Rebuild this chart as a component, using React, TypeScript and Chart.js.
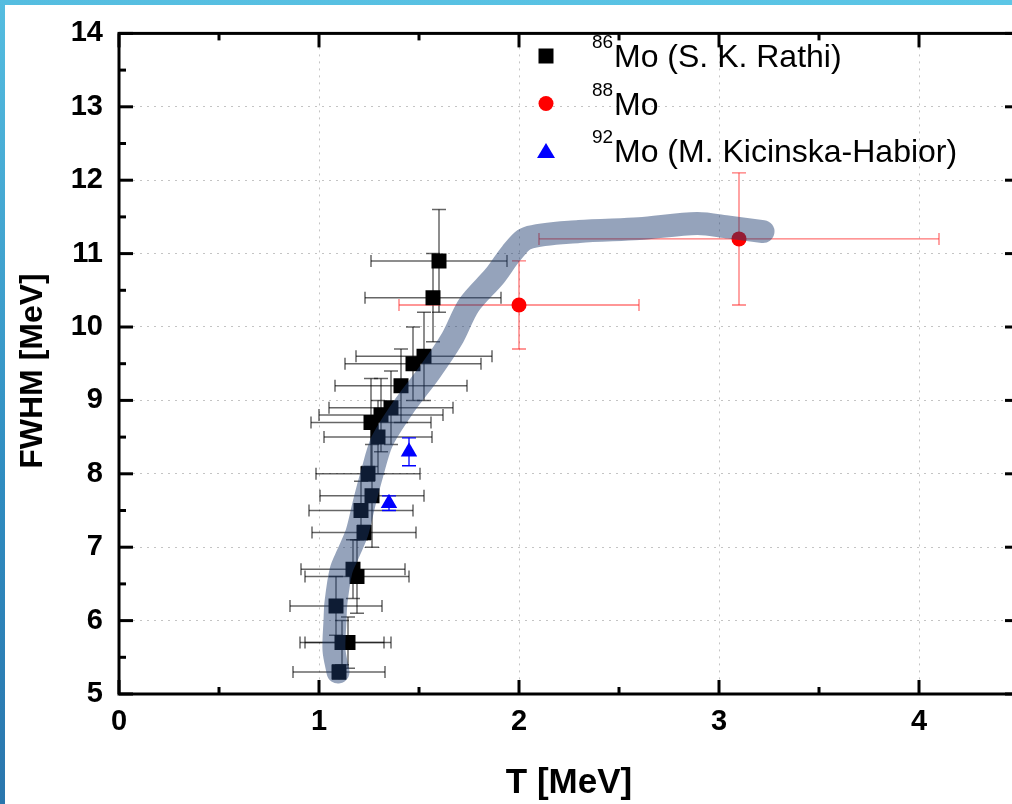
import React, { useEffect, useRef } from 'react';
import { Chart, registerables } from 'chart.js';

Chart.register(...registerables);

const FONT = '"Liberation Sans", Arial, Helvetica, sans-serif';

// 86Mo (S. K. Rathi)
const rathiT = [1.10, 1.115, 1.145, 1.085, 1.17, 1.19, 1.225, 1.21, 1.265, 1.245, 1.295, 1.26, 1.31, 1.36, 1.41, 1.47, 1.525, 1.57, 1.60];
const rathiF = [5.3, 5.7, 5.7, 6.2, 6.7, 6.6, 7.2, 7.5, 7.7, 8.0, 8.5, 8.7, 8.8, 8.9, 9.2, 9.5, 9.6, 10.4, 10.9];
const rathiTErr = [0.23, 0.21, 0.215, 0.23, 0.26, 0.26, 0.26, 0.26, 0.26, 0.26, 0.27, 0.30, 0.31, 0.31, 0.33, 0.34, 0.34, 0.34, 0.34];
const rathiFErr = [0.1, 0.3, 0.35, 0.4, 0.4, 0.5, 0.1, 0.4, 0.7, 0.1, 0.5, 0.6, 0.5, 0.5, 0.5, 0.5, 0.6, 0.6, 0.7];

// 88Mo
const mo88T = [2.0, 3.1];
const mo88F = [10.3, 11.2];
const mo88TErr = [0.6, 1.0];
const mo88FErr = [0.6, 0.9];

// 92Mo (M. Kicinska-Habior)
const mo92T = [1.45, 1.35];
const mo92F = [8.3, 7.6];
const mo92TErr = [0, 0];
const mo92FErr = [0.19, 0.1];

// shaded trend band
const bandT = [1.095, 1.075, 1.08, 1.085, 1.11, 1.145, 1.19, 1.225, 1.265, 1.315, 1.42, 1.555, 1.665, 1.75, 1.88, 1.96, 2.04, 2.3, 2.6, 2.89, 3.05, 3.22];
const bandF = [5.3, 5.6, 6.0, 6.25, 6.68, 6.91, 7.2, 7.59, 8.0, 8.44, 8.9, 9.39, 9.84, 10.3, 10.7, 11.0, 11.21, 11.3, 11.34, 11.41, 11.36, 11.3];

const xMajorTicks = [0, 1, 2, 3, 4];
const xMinorTicks = [0.5, 1.5, 2.5, 3.5, 4.5];
const yMajorTicks = [5, 6, 7, 8, 9, 10, 11, 12, 13, 14];
const yMinorTicks = [5.5, 6.5, 7.5, 8.5, 9.5, 10.5, 11.5, 12.5, 13.5];

const xTitle = 'T [MeV]';
const yTitle = 'FWHM [MeV]';

const legendIso = ['86', '88', '92'];
const legendText = ['Mo (S. K. Rathi)', 'Mo', 'Mo (M. Kicinska-Habior)'];
const legendStyle = ['rect', 'circle', 'triangle'];
const legendColor = ['#000000', '#ff0000', '#0000ff'];

const toPts = (xs: number[], ys: number[]) => xs.map((v, i) => ({ x: v, y: ys[i] }));

function line(ctx: CanvasRenderingContext2D, x1: number, y1: number, x2: number, y2: number) {
  ctx.beginPath();
  ctx.moveTo(x1, y1);
  ctx.lineTo(x2, y2);
  ctx.stroke();
}

const errorBarPlugin = {
  id: 'errorBars',
  beforeDatasetsDraw(chart: any) {
    const { ctx, chartArea, scales } = chart;
    const xs = scales.x, ys = scales.y;
    ctx.save();
    ctx.beginPath();
    ctx.rect(chartArea.left, chartArea.top, chartArea.right - chartArea.left, chartArea.bottom - chartArea.top);
    ctx.clip();
    chart.data.datasets.forEach((ds: any) => {
      if (!ds.errT) return;
      ctx.strokeStyle = ds.errColor;
      ctx.lineWidth = ds.errWidth;
      ds.data.forEach((p: any, i: number) => {
        const px = xs.getPixelForValue(p.x);
        const py = ys.getPixelForValue(p.y);
        const dx = ds.errT[i];
        const dy = ds.errF[i];
        if (dx > 0) {
          const l = xs.getPixelForValue(p.x - dx);
          const r = xs.getPixelForValue(p.x + dx);
          line(ctx, l, py, r, py);
          line(ctx, l, py - 6, l, py + 6);
          line(ctx, r, py - 6, r, py + 6);
        }
        if (dy > 0) {
          const t = ys.getPixelForValue(p.y + dy);
          const b = ys.getPixelForValue(p.y - dy);
          line(ctx, px, t, px, b);
          line(ctx, px - 7, t, px + 7, t);
          line(ctx, px - 7, b, px + 7, b);
        }
      });
    });
    ctx.restore();
  },
};

const framePlugin = {
  id: 'frame',
  afterDraw(chart: any) {
    const { ctx, chartArea, scales } = chart;
    const xs = scales.x, ys = scales.y;
    const { left, right, top, bottom } = chartArea;
    ctx.save();
    ctx.strokeStyle = '#000';
    ctx.lineWidth = 3;
    ctx.lineCap = 'butt';
    // inward ticks
    const drawX = (v: number, len: number) => {
      const px = xs.getPixelForValue(v);
      line(ctx, px, bottom, px, bottom - len);
      line(ctx, px, top, px, top + len);
    };
    const drawY = (v: number, len: number) => {
      const py = ys.getPixelForValue(v);
      line(ctx, left, py, left + len, py);
      line(ctx, right, py, right - len, py);
    };
    xMajorTicks.forEach((v) => drawX(v, 14));
    xMinorTicks.forEach((v) => drawX(v, 7));
    yMajorTicks.forEach((v) => drawY(v, 14));
    yMinorTicks.forEach((v) => drawY(v, 7));
    // box
    ctx.lineWidth = 3;
    ctx.strokeRect(left, top, right - left, bottom - top);

    // axis titles
    ctx.fillStyle = '#000';
    ctx.font = `bold 35px ${FONT}`;
    ctx.textAlign = 'center';
    ctx.textBaseline = 'alphabetic';
    ctx.fillText(xTitle, (xs.getPixelForValue(0) + xs.getPixelForValue(4.5)) / 2, 793);
    ctx.save();
    ctx.translate(42, 371);
    ctx.rotate(-Math.PI / 2);
    ctx.font = `bold 32px ${FONT}`;
    ctx.fillText(yTitle, 0, 0);
    ctx.restore();

    // legend
    const mx = 546;
    legendIso.forEach((iso, i) => {
      const base = 67 + i * 47.5;
      const cy = base - 11;
      ctx.fillStyle = legendColor[i];
      ctx.beginPath();
      if (legendStyle[i] === 'rect') {
        ctx.rect(mx - 7.5, cy - 7.5, 15, 15);
      } else if (legendStyle[i] === 'circle') {
        ctx.arc(mx, cy, 7.5, 0, Math.PI * 2);
      } else {
        ctx.moveTo(mx, cy - 8);
        ctx.lineTo(mx + 9, cy + 7);
        ctx.lineTo(mx - 9, cy + 7);
        ctx.closePath();
      }
      ctx.fill();
      ctx.fillStyle = '#000';
      ctx.textAlign = 'left';
      ctx.textBaseline = 'alphabetic';
      ctx.font = `19px ${FONT}`;
      ctx.fillText(iso, 592, base - 19);
      ctx.font = `32px ${FONT}`;
      ctx.fillText(legendText[i], 614, base);
    });
    ctx.restore();
  },
};

export default function App() {
  const ref = useRef<HTMLCanvasElement>(null);

  useEffect(() => {
    if (!ref.current) return;
    const gridCommon = { color: '#c4c4c4', lineWidth: 1, drawTicks: false };
    const chart = new Chart(ref.current, {
      type: 'scatter',
      data: {
        datasets: [
          {
            label: 'band',
            data: toPts(bandT, bandF),
            showLine: true,
            borderColor: 'rgba(30,60,110,0.47)',
            backgroundColor: 'rgba(30,60,110,0.47)',
            borderWidth: 23,
            borderCapStyle: 'round',
            borderJoinStyle: 'round',
            tension: 0.3,
            pointRadius: 0,
            pointHoverRadius: 0,
            order: 0,
          } as any,
          {
            label: '86Mo (S. K. Rathi)',
            data: toPts(rathiT, rathiF),
            pointStyle: 'rect',
            pointRadius: 10.6,
            pointBorderWidth: 0,
            backgroundColor: '#000000',
            borderColor: '#000000',
            order: 1,
            errT: rathiTErr,
            errF: rathiFErr,
            errColor: 'rgba(0,0,0,0.6)',
            errWidth: 1.5,
          } as any,
          {
            label: '88Mo',
            data: toPts(mo88T, mo88F),
            pointStyle: 'circle',
            pointRadius: 7.5,
            pointBorderWidth: 0,
            backgroundColor: '#ff0000',
            borderColor: '#ff0000',
            order: 2,
            errT: mo88TErr,
            errF: mo88FErr,
            errColor: 'rgba(255,40,40,0.65)',
            errWidth: 1.3,
          } as any,
          {
            label: '92Mo (M. Kicinska-Habior)',
            data: toPts(mo92T, mo92F),
            pointStyle: 'triangle',
            pointRadius: 9.5,
            pointBorderWidth: 0,
            backgroundColor: '#0000ff',
            borderColor: '#0000ff',
            order: 3,
            errT: mo92TErr,
            errF: mo92FErr,
            errColor: '#0000ff',
            errWidth: 1.3,
          } as any,
        ],
      },
      options: {
        responsive: false,
        animation: false,
        devicePixelRatio: 1,
        layout: { padding: { top: 30, right: 21, bottom: 0, left: 0 } },
        plugins: { legend: { display: false }, tooltip: { enabled: false } },
        events: [],
        scales: {
          x: {
            type: 'linear',
            min: 0,
            max: 4.5,
            afterBuildTicks: (s: any) => {
              s.ticks = xMajorTicks.map((v) => ({ value: v }));
            },
            afterFit: (s: any) => {
              s.height = 110;
            },
            ticks: {
              color: '#000',
              padding: 11,
              maxRotation: 0,
              font: { family: FONT, size: 29, weight: 'bold' },
            },
            grid: gridCommon,
            border: { display: false, dash: [2, 5] },
            title: { display: false },
          },
          y: {
            type: 'linear',
            min: 5,
            max: 14,
            afterBuildTicks: (s: any) => {
              s.ticks = yMajorTicks.map((v) => ({ value: v }));
            },
            afterFit: (s: any) => {
              s.width = 119;
            },
            ticks: {
              color: '#000',
              padding: 16,
              font: { family: FONT, size: 29, weight: 'bold' },
            },
            grid: gridCommon,
            border: { display: false, dash: [2, 5] },
            title: { display: false },
          },
        },
      } as any,
      plugins: [errorBarPlugin, framePlugin],
    });
    return () => chart.destroy();
  }, []);

  return (
    <div
      style={{
        position: 'fixed',
        left: 0,
        top: 0,
        width: 1012,
        height: 804,
        overflow: 'hidden',
        background: '#ffffff',
      }}
    >
      <canvas
        ref={ref}
        width={1040}
        height={804}
        style={{ position: 'absolute', left: 0, top: 0, width: 1040, height: 804, display: 'block' }}
      />
      <div
        style={{
          position: 'absolute',
          left: 0,
          top: 0,
          width: 1012,
          height: 5,
          background: 'linear-gradient(to right, #55bde0, #5cc6e6)',
        }}
      />
      <div
        style={{
          position: 'absolute',
          left: 0,
          top: 0,
          width: 5,
          height: 804,
          background: 'linear-gradient(to bottom, #55bde0, #2f8cc0 60%, #2a76ad)',
        }}
      />
    </div>
  );
}
